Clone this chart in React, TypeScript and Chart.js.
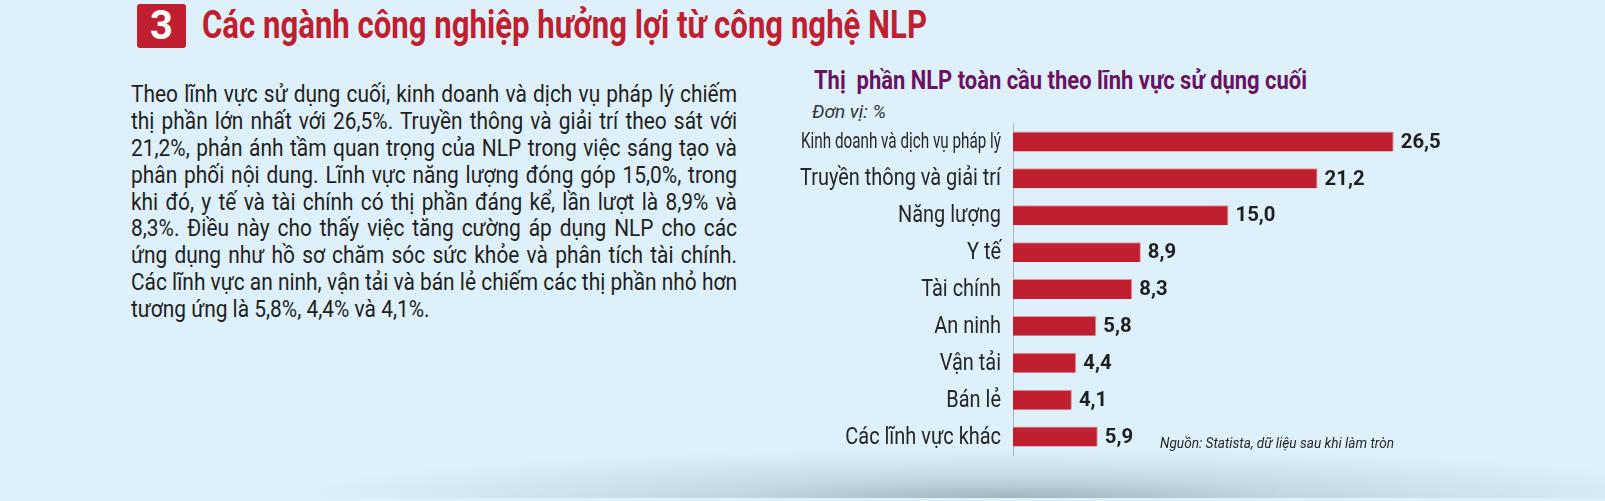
import React, { useEffect, useLayoutEffect, useRef } from "react";
import { Chart, registerables } from "chart.js";

Chart.register(...registerables);

const categories = [
  "Kinh doanh và dịch vụ pháp lý",
  "Truyền thông và giải trí",
  "Năng lượng",
  "Y tế",
  "Tài chính",
  "An ninh",
  "Vận tải",
  "Bán lẻ",
  "Các lĩnh vực khác",
];
const shareValues = [26.5, 21.2, 15.0, 8.9, 8.3, 5.8, 4.4, 4.1, 5.9];

const pageTitle = "Các ngành công nghiệp hưởng lợi từ công nghệ NLP";
const chartTitle = "Thị  phần NLP toàn cầu theo lĩnh vực sử dụng cuối";
const unitLabel = "Đơn vị: %";
const sourceLabel = "Nguồn: Statista, dữ liệu sau khi làm tròn";
const paragraphLines = [
  "Theo lĩnh vực sử dụng cuối, kinh doanh và dịch vụ pháp lý chiếm",
  "thị phần lớn nhất với 26,5%. Truyền thông và giải trí theo sát với",
  "21,2%, phản ánh tầm quan trọng của NLP trong việc sáng tạo và",
  "phân phối nội dung. Lĩnh vực năng lượng đóng góp 15,0%, trong",
  "khi đó, y tế và tài chính có thị phần đáng kể, lần lượt là 8,9% và",
  "8,3%. Điều này cho thấy việc tăng cường áp dụng NLP cho các",
  "ứng dụng như hồ sơ chăm sóc sức khỏe và phân tích tài chính.",
  "Các lĩnh vực an ninh, vận tải và bán lẻ chiếm các thị phần nhỏ hơn",
  "tương ứng là 5,8%, 4,4% và 4,1%.",
];

const FONT = "Roboto, 'Noto Sans', sans-serif";
const RED = "#c01f2f";

// condensed look: horizontal squeeze of Roboto glyphs
const CAT_SQUEEZE_REF = "Truyền thông và giải trí";
const CAT_SQUEEZE_WIDTH = 201;
const CAT_MAX_WIDTH = 200;
const VALUE_SQUEEZE_REF = "26,5";
const VALUE_SQUEEZE_WIDTH = 40;

const labelPlugin = {
  id: "customLabels",
  afterDatasetsDraw(chart: any) {
    const ctx = chart.ctx as CanvasRenderingContext2D;
    const yScale = chart.scales.y;
    const meta = chart.getDatasetMeta(0);
    ctx.save();
    ctx.fillStyle = "#262626";
    ctx.textAlign = "right";
    ctx.textBaseline = "middle";
    ctx.font = `400 24px ${FONT}`;
    const sc = CAT_SQUEEZE_WIDTH / ctx.measureText(CAT_SQUEEZE_REF).width;
    categories.forEach((c, i) => {
      const y = yScale.getPixelForValue(i);
      ctx.font = `400 24px ${FONT}`;
      let s = sc;
      if (ctx.measureText(c).width * sc > CAT_SQUEEZE_WIDTH + 1) {
        ctx.font = `400 22.5px ${FONT}`;
        s = CAT_MAX_WIDTH / ctx.measureText(c).width;
      }
      ctx.save();
      ctx.translate(yScale.right - 12, y + 1);
      ctx.scale(s, 1);
      ctx.fillText(c, 0, 0);
      ctx.restore();
    });
    ctx.font = `700 21px ${FONT}`;
    const sv = VALUE_SQUEEZE_WIDTH / ctx.measureText(VALUE_SQUEEZE_REF).width;
    ctx.fillStyle = "#1f1f1f";
    ctx.textAlign = "left";
    meta.data.forEach((bar: any, i: number) => {
      const v = chart.data.datasets[0].data[i] as number;
      const txt = v.toFixed(1).replace(".", ",");
      ctx.save();
      ctx.translate(bar.x + 7, bar.y + 1);
      ctx.scale(sv, 1);
      ctx.fillText(txt, 0, 0);
      ctx.restore();
    });
    ctx.restore();
  },
};

function BarChart() {
  const ref = useRef<HTMLCanvasElement | null>(null);
  useEffect(() => {
    if (!ref.current) return;
    const chart = new Chart(ref.current, {
      type: "bar",
      data: {
        labels: categories,
        datasets: [
          {
            data: shareValues,
            backgroundColor: RED,
            borderColor: "#e3939c",
            borderWidth: { top: 1, right: 1, bottom: 0, left: 0 },
            borderSkipped: false,
            barPercentage: 0.54,
            categoryPercentage: 1,
          },
        ],
      },
      options: {
        indexAxis: "y",
        animation: false,
        responsive: false,
        maintainAspectRatio: false,
        events: [],
        layout: { padding: { top: 5, bottom: 5, left: 0, right: 6 } },
        plugins: {
          legend: { display: false },
          tooltip: { enabled: false },
          title: { display: false },
        },
        scales: {
          x: { display: false, min: 0, max: 30 },
          y: {
            afterFit: (scale: any) => {
              scale.width = 243;
            },
            grid: { display: true, drawOnChartArea: false, drawTicks: false, color: "transparent" },
            border: { display: true, color: "#a9b7c0", width: 1 },
            ticks: { display: false },
          },
        },
      },
      plugins: [labelPlugin],
    } as any);
    return () => chart.destroy();
  }, []);
  return (
    <canvas
      ref={ref}
      width={680}
      height={342}
      style={{ position: "absolute", left: 770, top: 118, width: 680, height: 342 }}
    />
  );
}

function FitText(props: {
  text: string;
  left: number;
  top: number;
  width: number;
  style: React.CSSProperties;
}) {
  const ref = useRef<HTMLSpanElement | null>(null);
  useLayoutEffect(() => {
    const el = ref.current;
    if (!el) return;
    el.style.transform = "none";
    const w = el.getBoundingClientRect().width;
    if (w > 0) el.style.transform = `scaleX(${props.width / w})`;
  }, [props.text, props.width]);
  return (
    <span
      ref={ref}
      style={{
        position: "absolute",
        left: props.left,
        top: props.top,
        whiteSpace: "pre",
        display: "inline-block",
        transformOrigin: "0 0",
        ...props.style,
      }}
    >
      {props.text}
    </span>
  );
}

function Paragraph() {
  const boxRef = useRef<HTMLDivElement | null>(null);
  const measureRef = useRef<HTMLDivElement | null>(null);
  const TARGET = 606;
  useLayoutEffect(() => {
    const m = measureRef.current;
    const box = boxRef.current;
    if (!m || !box) return;
    let max = 0;
    Array.from(m.children).forEach((c) => {
      max = Math.max(max, (c as HTMLElement).getBoundingClientRect().width);
    });
    if (max > 0) {
      box.style.width = `${max}px`;
      box.style.transform = `scaleX(${TARGET / max})`;
    }
  }, []);
  const lineStyle: React.CSSProperties = {
    fontSize: 23,
    height: 26.9,
    lineHeight: "26.9px",
    color: "#231f20",
  };
  return (
    <>
      <div
        ref={measureRef}
        style={{ position: "absolute", left: 0, top: 0, visibility: "hidden", fontFamily: FONT }}
      >
        {paragraphLines.map((l, i) => (
          <span
            key={i}
            style={{ ...lineStyle, display: "inline-block", whiteSpace: "pre", float: "left", clear: "left" }}
          >
            {l}
          </span>
        ))}
      </div>
      <div
        ref={boxRef}
        style={{ position: "absolute", left: 131, top: 82, width: TARGET, transformOrigin: "0 0" }}
      >
        {paragraphLines.map((line, i) => (
          <div
            key={i}
            style={{
              ...lineStyle,
              textAlign: "justify",
              textAlignLast: i === paragraphLines.length - 1 ? "left" : "justify",
              whiteSpace: "nowrap",
            }}
          >
            {line}
          </div>
        ))}
      </div>
    </>
  );
}

export default function App() {
  useEffect(() => {
    document.body.style.margin = "0";
  }, []);
  return (
    <div
      style={{
        position: "fixed",
        left: 0,
        top: 0,
        width: 1605,
        height: 501,
        overflow: "hidden",
        background: "#def1fb",
        fontFamily: FONT,
      }}
    >
      <div
        style={{
          position: "absolute",
          left: 0,
          top: 0,
          width: 1605,
          height: 498,
          background:
            "radial-gradient(ellipse 720px 50px at 1010px 498px, rgba(150,168,180,0.85) 0%, rgba(175,195,207,0.55) 40%, rgba(222,241,251,0) 100%)",
        }}
      />
      <div
        style={{
          position: "absolute",
          left: 137,
          top: 4,
          width: 49,
          height: 44,
          background: RED,
          borderRadius: 3,
          color: "#fff",
          fontWeight: 700,
          fontSize: 40,
          lineHeight: "44px",
          textAlign: "center",
        }}
      >
        3
      </div>
      <FitText
        text={pageTitle}
        left={202}
        top={3}
        width={725}
        style={{ color: RED, fontWeight: 700, fontSize: 38, lineHeight: "44px" }}
      />
      <Paragraph />
      <FitText
        text={chartTitle}
        left={814}
        top={67}
        width={493}
        style={{ color: "#6a1161", fontWeight: 700, fontSize: 25, lineHeight: "28px" }}
      />
      <FitText
        text={unitLabel}
        left={812}
        top={101}
        width={74}
        style={{ color: "#333", fontStyle: "italic", fontSize: 18, lineHeight: "22px" }}
      />
      <BarChart />
      <FitText
        text={sourceLabel}
        left={1160}
        top={434}
        width={234}
        style={{ color: "#262626", fontStyle: "italic", fontSize: 15, lineHeight: "18px" }}
      />
    </div>
  );
}
